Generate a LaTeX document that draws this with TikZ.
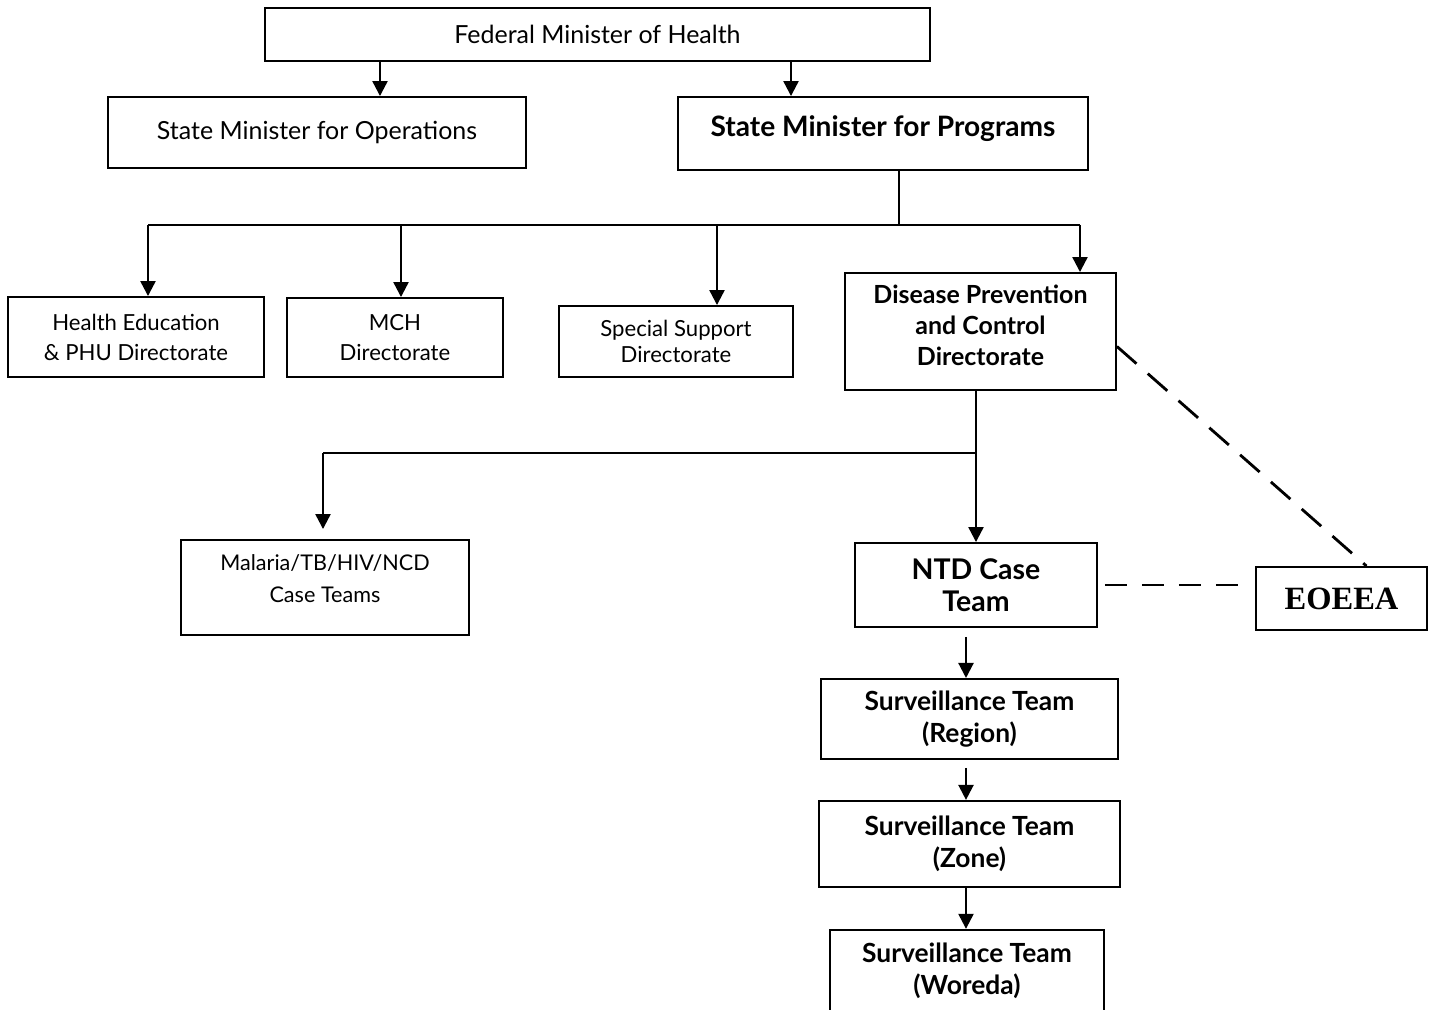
\documentclass[tikz,border=0pt]{standalone}
\usepackage{fontspec}
\setmainfont{Lato}
\newfontfamily\serifbold{Liberation Serif}
\usetikzlibrary{arrows.meta,positioning,calc}
\tikzset{
  BX/.style={rectangle,draw,line width=1.1pt,
             text centered,align=center,inner sep=2pt,
             font=\fontsize{12.6}{17}\selectfont},
  BB/.style={BX,font=\fontsize{15}{18}\selectfont\bfseries},
  arr/.style={-{Triangle[length=0.3cm,width=0.3cm]},line width=1.3pt},
  ln/.style={line width=0.8pt},
  dsh/.style={line width=0.8pt,dash pattern=on 0.44cm off 0.3cm}
}

\begin{document}
\begin{tikzpicture}
  \useasboundingbox (0,0) rectangle (28.62,-20.2);

  % top level
  \node[BX,minimum width=13.3cm,minimum height=1.06cm,font=\fontsize{14.2}{17}\selectfont] (fmh) at (11.95,-0.69) {Federal Minister of Health};
  \node[BX,minimum width=8.36cm,minimum height=1.42cm,font=\fontsize{14.2}{17}\selectfont] (ops) at (6.34,-2.65) {State Minister for Operations};
  \node[BB,minimum width=8.2cm,minimum height=1.46cm,text depth=0.31cm,font=\fontsize{16}{18}\selectfont\bfseries] (prog) at (17.66,-2.67) {State Minister for Programs};

  % directorates
  \node[BX,minimum width=5.12cm,minimum height=1.6cm] (hedu) at (2.72,-6.74) {Health Education\\\& PHU Directorate};
  \node[BX,minimum width=4.32cm,minimum height=1.58cm] (mch) at (7.90,-6.75) {MCH\\Directorate};
  \node[BX,minimum width=4.68cm,minimum height=1.42cm,font=\fontsize{12.6}{15}\selectfont] (ssd) at (13.52,-6.83) {Special Support\\Directorate};
  \node[BB,minimum width=5.42cm,minimum height=2.34cm,text depth=0.25cm,font=\fontsize{14.2}{17.5}\selectfont\bfseries] (dpc) at (19.61,-6.63) {Disease Prevention\\and Control\\Directorate};

  % case teams
  \node[BX,minimum width=5.76cm,minimum height=1.9cm,text depth=0.36cm,font=\fontsize{12.3}{18.5}\selectfont] (mal) at (6.50,-11.75) {Malaria/TB/HIV/NCD\\Case Teams};
  \node[BB,minimum width=4.84cm,minimum height=1.68cm,font=\fontsize{16.2}{18.5}\selectfont\bfseries] (ntd) at (19.52,-11.70) {NTD Case\\Team};
  \node[BX,minimum width=3.42cm,minimum height=1.26cm,font=\fontsize{18.5}{20}\serifbold\bfseries] (eoeea) at (26.83,-11.97) {EOEEA};

  % surveillance
  \node[BB,minimum width=5.94cm,minimum height=1.6cm,below=1.0cm of ntd,xshift=-0.13cm] (reg) {Surveillance Team\\(Region)};
  \node[BB,minimum width=6.02cm,minimum height=1.72cm,below=0.8cm of reg] (zone) {Surveillance Team\\(Zone)};
  \node[BB,minimum width=5.48cm,minimum height=1.64cm,below=0.82cm of zone,xshift=-0.05cm,anchor=north] (wor) {Surveillance Team\\(Woreda)};

  \draw[arr]([xshift=1.26cm]ops.north |- fmh.south)--([xshift=1.26cm]ops.north);
  \draw[arr]([xshift=-1.84cm]prog.north |- fmh.south)--([xshift=-1.84cm]prog.north);

  \draw[ln]([xshift=0.32cm]prog.south)--++(0,-1.08) coordinate (bus);
  \draw[ln]([xshift=0.24cm]hedu.north |- bus)--([xshift=1.99cm]dpc.north |- bus);
  \draw[arr]([xshift=0.24cm]hedu.north |- bus)--([xshift=0.24cm]hedu.north);
  \draw[arr]([xshift=0.12cm]mch.north |- bus)--([xshift=0.12cm]mch.north);
  \draw[arr]([xshift=0.82cm]ssd.north |- bus)--([xshift=0.82cm]ssd.north);
  \draw[arr]([xshift=1.99cm]dpc.north |- bus)--([xshift=1.99cm]dpc.north);

  \draw[ln](dpc.south -| ntd.north)--++(0,-1.24) coordinate (split);
  \draw[ln](split)--([xshift=-0.04cm]mal.north |- split);
  \draw[arr,shorten >=0.2cm]([xshift=-0.04cm]mal.north |- split)--([xshift=-0.04cm]mal.north);
  \draw[arr](split)--(ntd.north);

  \draw[arr,shorten <=0.18cm]([xshift=-0.2cm]ntd.south)--([xshift=-0.2cm]ntd.south |- reg.north);
  \draw[arr,shorten <=0.16cm]([xshift=-0.07cm]reg.south)--([xshift=-0.07cm]reg.south |- zone.north);
  \draw[arr]([xshift=-0.07cm]zone.south)--([xshift=-0.07cm]zone.south |- wor.north);

  \draw[dsh,shorten <=0.14cm,shorten >=0.18cm](ntd.east)--(ntd.east -| eoeea.west);
  \draw[line width=1.6pt,dash pattern=on 0.52cm off 0.3cm]([yshift=-0.3cm]dpc.east)--([xshift=0.5cm]eoeea.north);
\end{tikzpicture}
\end{document}
